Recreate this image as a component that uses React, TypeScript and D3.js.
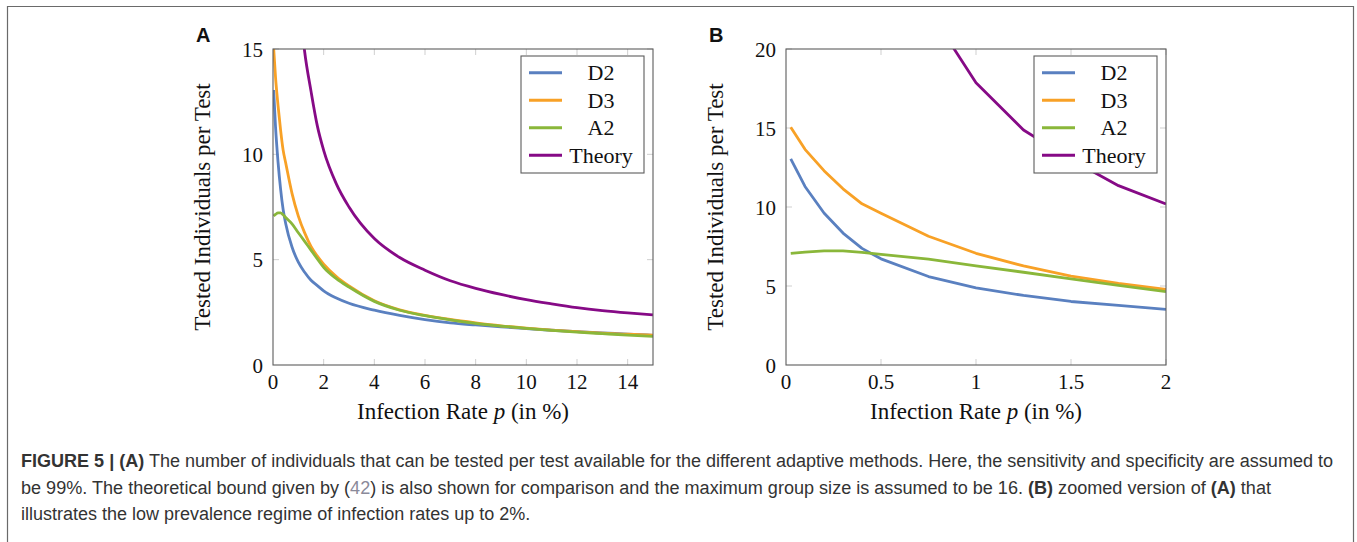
import { useRef, useEffect } from 'react';
import * as d3 from 'd3';

// infection rate p (in %) where the adaptive methods were evaluated
const rates = [0.025, 0.1, 0.2, 0.3, 0.4, 0.5, 0.75, 1, 1.25, 1.5, 1.75, 2, 2.5, 3, 4, 5, 6, 7, 8, 9, 10, 11, 12, 13, 14, 15];
const d2Values = [13.05, 11.3, 9.62, 8.35, 7.38, 6.72, 5.6, 4.88, 4.4, 4.02, 3.77, 3.52, 3.18, 2.93, 2.6, 2.35, 2.15, 2.0, 1.9, 1.81, 1.73, 1.65, 1.58, 1.52, 1.47, 1.41];
const d3Values = [15.05, 13.65, 12.3, 11.15, 10.2, 9.6, 8.15, 7.07, 6.27, 5.63, 5.17, 4.79, 4.2, 3.75, 3.05, 2.62, 2.36, 2.16, 2.0, 1.86, 1.75, 1.66, 1.58, 1.51, 1.46, 1.42];
const a2Values = [7.07, 7.15, 7.22, 7.22, 7.13, 7.0, 6.7, 6.28, 5.87, 5.45, 5.04, 4.64, 4.1, 3.7, 3.02, 2.6, 2.34, 2.14, 1.98, 1.85, 1.74, 1.64, 1.56, 1.49, 1.42, 1.36];

// theoretical bound
const theoryRates = [0.75, 1, 1.25, 1.5, 1.75, 2, 2.5, 3, 4, 5, 6, 7, 8, 9, 10, 11, 12, 13, 14, 15];
const theoryValues = [22.5, 17.87, 14.87, 13.0, 11.35, 10.19, 8.6, 7.5, 6.0, 5.1, 4.5, 4.0, 3.64, 3.35, 3.1, 2.9, 2.72, 2.58, 2.47, 2.38];

const seriesNames = ['D2', 'D3', 'A2', 'Theory'];
const seriesColors = ['#5a80c0', '#f8a126', '#8ab73a', '#860a86'];

const xTicksA = [0, 2, 4, 6, 8, 10, 12, 14];
const yTicksA = [0, 5, 10, 15];
const xTicksB = [0, 0.5, 1, 1.5, 2];
const yTicksB = [0, 5, 10, 15, 20];

const captionBold1 = 'FIGURE 5 | (A)';
const captionText1 = ' The number of individuals that can be tested per test available for the different adaptive methods. Here, the sensitivity and specificity are assumed to';
const captionText2a = 'be 99%. The theoretical bound given by (';
const captionRef = '42';
const captionText2b = ') is also shown for comparison and the maximum group size is assumed to be 16. ';
const captionText2c = ' zoomed version of ';
const captionText2d = ' that';
const captionText3 = 'illustrates the low prevalence regime of infection rates up to 2%.';

interface Pt { p: number; v: number }

const serif = '"Liberation Serif", "Times New Roman", serif';
const sans = '"Liberation Sans", Arial, sans-serif';

interface PanelOpts {
  id: string;
  letter: string;
  left: number;
  xMax: number;
  yMax: number;
  xTicks: number[];
  yTicks: number[];
  smooth: boolean;
}

function drawPanel(svg: d3.Selection<SVGSVGElement, unknown, null, undefined>, o: PanelOpts) {
  const top = 49, bottom = 365, width = 380;
  const x = d3.scaleLinear().domain([0, o.xMax]).range([o.left, o.left + width]);
  const y = d3.scaleLinear().domain([0, o.yMax]).range([bottom, top]);

  const g = svg.append('g');

  g.append('clipPath').attr('id', `clip-${o.id}`)
    .append('rect')
    .attr('x', o.left).attr('y', top)
    .attr('width', width).attr('height', bottom - top);

  // light inner tick marks on all four sides
  const tickCol = '#cfcfcf';
  o.xTicks.forEach(t => {
    if (t === 0) return;
    g.append('line').attr('x1', x(t)).attr('x2', x(t)).attr('y1', bottom).attr('y2', bottom - 6).attr('stroke', tickCol);
    g.append('line').attr('x1', x(t)).attr('x2', x(t)).attr('y1', top).attr('y2', top + 6).attr('stroke', tickCol);
  });
  o.yTicks.forEach(t => {
    if (t === 0) return;
    g.append('line').attr('y1', y(t)).attr('y2', y(t)).attr('x1', o.left).attr('x2', o.left + 6).attr('stroke', tickCol);
    g.append('line').attr('y1', y(t)).attr('y2', y(t)).attr('x1', o.left + width).attr('x2', o.left + width - 6).attr('stroke', tickCol);
  });

  const line = d3.line<Pt>()
    .x(d => x(d.p))
    .y(d => y(d.v))
    .curve(o.smooth ? d3.curveMonotoneX : d3.curveLinear);
  const allValues = [d2Values, d3Values, a2Values];
  const plotted = allValues.map(vals => rates.map((p, i) => ({ p, v: vals[i] })).filter(d => d.p <= o.xMax));
  plotted.push(theoryRates.map((p, i) => ({ p, v: theoryValues[i] })).filter(d => d.p <= o.xMax));

  const curves = g.append('g').attr('clip-path', `url(#clip-${o.id})`);
  plotted.forEach((pts, i) => {
    curves.append('path')
      .datum(pts)
      .attr('fill', 'none')
      .attr('stroke', seriesColors[i])
      .attr('stroke-width', 2.8)
      .attr('stroke-linejoin', 'round')
      .attr('d', line);
  });

  // axis frame
  g.append('rect')
    .attr('x', o.left).attr('y', top)
    .attr('width', width).attr('height', bottom - top)
    .attr('fill', 'none').attr('stroke', '#5c5c5c').attr('stroke-width', 1.1);

  // tick labels
  g.selectAll('.xt').data(o.xTicks).enter().append('text')
    .attr('x', d => x(d)).attr('y', bottom + 24)
    .attr('text-anchor', 'middle')
    .style('font-family', serif).style('font-size', '21px').attr('fill', '#111')
    .text(d => String(d));
  g.selectAll('.yt').data(o.yTicks).enter().append('text')
    .attr('x', o.left - 10).attr('y', d => y(d) + 7.5)
    .attr('text-anchor', 'end')
    .style('font-family', serif).style('font-size', '21px').attr('fill', '#111')
    .text(d => String(d));

  // axis titles
  const xt = g.append('text')
    .attr('x', o.left + width / 2).attr('y', 419)
    .attr('text-anchor', 'middle')
    .style('font-family', serif).style('font-size', '23px').attr('fill', '#111');
  xt.append('tspan').text('Infection Rate ');
  xt.append('tspan').style('font-style', 'italic').text('p');
  xt.append('tspan').text(' (in %)');

  g.append('text')
    .attr('transform', `translate(${o.left - 63},${(top + bottom) / 2}) rotate(-90)`)
    .attr('text-anchor', 'middle')
    .style('font-family', serif).style('font-size', '23px').attr('fill', '#111')
    .text('Tested Individuals per Test');

  // panel letter
  g.append('text')
    .attr('x', o.left - 77).attr('y', 41.5)
    .style('font-family', sans).style('font-weight', 'bold').style('font-size', '20px').attr('fill', '#111')
    .text(o.letter);

  // legend
  const lx = o.left + width - 132, ly = 56;
  const lg = g.append('g');
  lg.append('rect')
    .attr('x', lx).attr('y', ly).attr('width', 123).attr('height', 117)
    .attr('fill', '#fff').attr('stroke', '#5c5c5c').attr('stroke-width', 1.1);
  seriesNames.forEach((name, i) => {
    const yy = ly + 16.7 + i * 27.5;
    lg.append('line')
      .attr('x1', lx + 8).attr('x2', lx + 41).attr('y1', yy).attr('y2', yy)
      .attr('stroke', seriesColors[i]).attr('stroke-width', 3);
    lg.append('text')
      .attr('x', lx + 80).attr('y', yy + 7.5)
      .attr('text-anchor', 'middle')
      .style('font-family', serif).style('font-size', '22px').attr('fill', '#111')
      .text(name);
  });
}

const App: React.FC = () => {
  const svgRef = useRef<SVGSVGElement | null>(null);

  useEffect(() => {
    const svg = d3.select(svgRef.current as SVGSVGElement);
    svg.selectAll('*').remove();

    // figure frame
    svg.append('path')
      .attr('d', 'M7.5,560 L7.5,6.5 L1353.5,6.5 L1353.5,560')
      .attr('fill', 'none').attr('stroke', '#6a6a6a').attr('stroke-width', 1.2);

    drawPanel(svg, { id: 'a', letter: 'A', left: 273, xMax: 15, yMax: 15, xTicks: xTicksA, yTicks: yTicksA, smooth: true });
    drawPanel(svg, { id: 'b', letter: 'B', left: 786, xMax: 2, yMax: 20, xTicks: xTicksB, yTicks: yTicksB, smooth: false });

    // caption
    const cap = svg.append('g')
      .style('font-family', sans).style('font-size', '18px').attr('fill', '#333');
    const l1 = cap.append('text').attr('x', 21).attr('y', 467)
      .attr('textLength', 1312).attr('lengthAdjust', 'spacingAndGlyphs');
    l1.append('tspan').style('font-weight', 'bold').text(captionBold1);
    l1.append('tspan').text(captionText1);
    const l2 = cap.append('text').attr('x', 21).attr('y', 493.5)
      .attr('textLength', 1250).attr('lengthAdjust', 'spacingAndGlyphs');
    l2.append('tspan').text(captionText2a);
    l2.append('tspan').attr('fill', '#8a8a9a').text(captionRef);
    l2.append('tspan').text(captionText2b);
    l2.append('tspan').style('font-weight', 'bold').text('(B)');
    l2.append('tspan').text(captionText2c);
    l2.append('tspan').style('font-weight', 'bold').text('(A)');
    l2.append('tspan').text(captionText2d);
    cap.append('text').attr('x', 21).attr('y', 520).text(captionText3);
  }, []);

  return (
    <svg
      ref={svgRef}
      width={1357}
      height={542}
      style={{ position: 'absolute', left: 0, top: 0, background: '#fff' }}
    />
  );
};

export default App;
